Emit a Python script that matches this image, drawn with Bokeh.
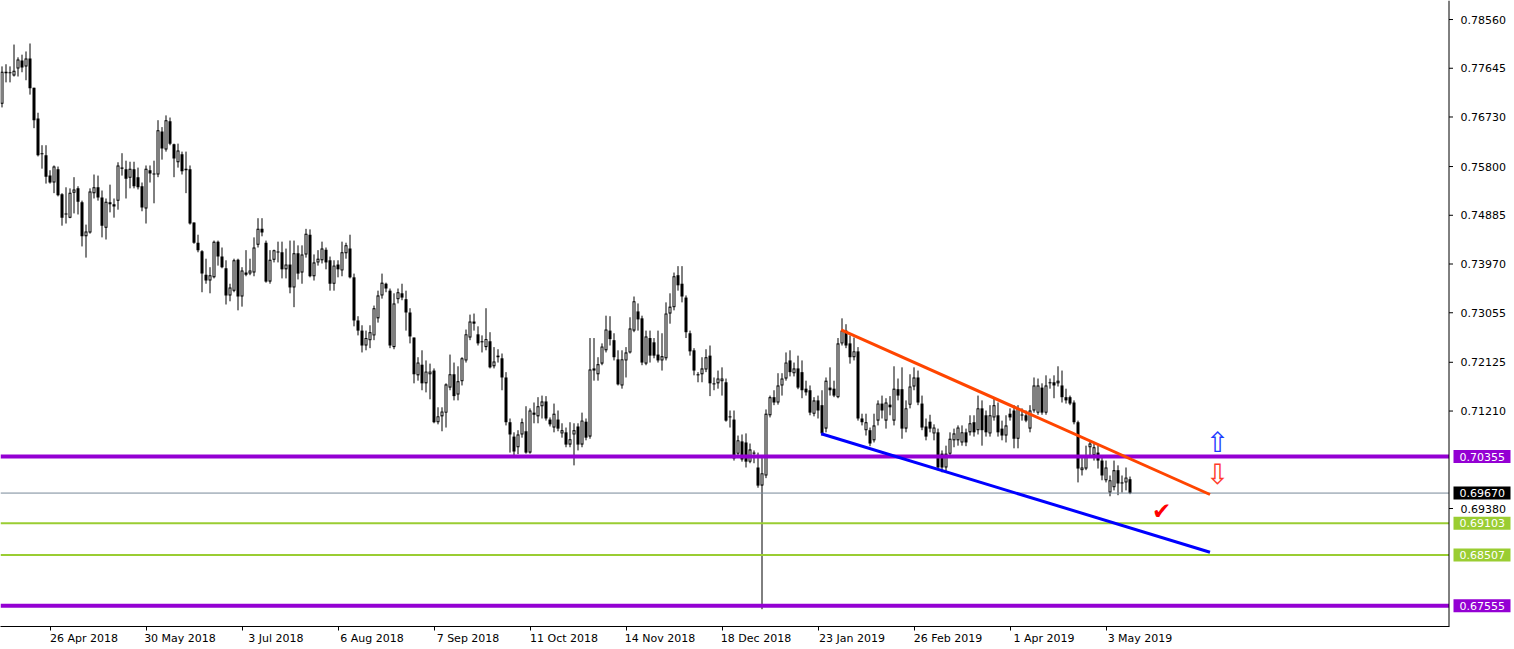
from bokeh.plotting import figure
from bokeh.models import (Range1d, FixedTicker, LinearAxis, Span,
                          ColumnDataSource, NumeralTickFormatter)
from bokeh.core.properties import value
from bokeh.embed import file_html
from bokeh.resources import INLINE

# ---------------- data (AUDUSD daily) ----------------
open_ = [
 0.7698,0.7758,0.7755,0.7751,0.7764,0.7779,0.7768,0.7783,0.7728,0.7670,
 0.7605,0.7601,0.7563,0.7550,0.7575,0.7528,0.7490,0.7484,0.7531,0.7539,
 0.7513,0.7449,0.7456,0.7530,0.7541,0.7522,0.7465,0.7513,0.7509,0.7516,
 0.7578,0.7575,0.7559,0.7575,0.7560,0.7543,0.7501,0.7573,0.7567,0.7565,
 0.7646,0.7612,0.7665,0.7622,0.7588,0.7603,0.7573,0.7575,0.7475,0.7437,
 0.7421,0.7377,0.7366,0.7372,0.7439,0.7411,0.7389,0.7338,0.7347,0.7405,
 0.7336,0.7381,0.7379,0.7381,0.7433,0.7463,0.7437,0.7364,0.7405,0.7419,
 0.7419,0.7387,0.7396,0.7353,0.7417,0.7381,0.7415,0.7452,0.7374,0.7400,
 0.7404,0.7424,0.7404,0.7360,0.7396,0.7385,0.7417,0.7426,0.7372,0.7291,
 0.7272,0.7244,0.7254,0.7263,0.7295,0.7338,0.7360,0.7347,0.7241,0.7331,
 0.7342,0.7331,0.7306,0.7259,0.7188,0.7208,0.7173,0.7190,0.7197,0.7100,
 0.7111,0.7118,0.7165,0.7190,0.7152,0.7177,0.7216,0.7259,0.7289,0.7265,
 0.7252,0.7241,0.7252,0.7205,0.7225,0.7220,0.7184,0.7100,0.7073,0.7053,
 0.7077,0.7083,0.7043,0.7118,0.7111,0.7130,0.7139,0.7105,0.7090,0.7105,
 0.7079,0.7081,0.7058,0.7077,0.7092,0.7058,0.7101,0.7073,0.7197,0.7190,
 0.7210,0.7235,0.7272,0.7254,0.7218,0.7169,0.7216,0.7231,0.7272,0.7308,
 0.7295,0.7210,0.7258,0.7250,0.7227,0.7216,0.7220,0.7304,0.7316,0.7376,
 0.7360,0.7334,0.7267,0.7235,0.7188,0.7190,0.7199,0.7225,0.7173,0.7173,
 0.7177,0.7175,0.7111,0.7105,0.7041,0.7064,0.7062,0.7026,0.7043,0.7015,
 0.6981,0.7000,0.7113,0.7147,0.7137,0.7169,0.7182,0.7216,0.7192,0.7201,
 0.7194,0.7163,0.7160,0.7116,0.7141,0.7132,0.7088,0.7165,0.7163,0.7147,
 0.7248,0.7272,0.7248,0.7222,0.7233,0.7107,0.7085,0.7085,0.7066,0.7103,
 0.7135,0.7103,0.7133,0.7103,0.7162,0.7162,0.7088,0.7133,0.7167,0.7184,
 0.7135,0.7092,0.7101,0.7079,0.7081,0.7041,0.7015,0.7041,0.7066,0.7066,
 0.7062,0.7081,0.7081,0.7100,0.7085,0.7126,0.7113,0.7079,0.7109,0.7113,
 0.7088,0.7075,0.7116,0.7122,0.7069,0.7113,0.7113,0.7088,0.7122,0.7118,
 0.7165,0.7118,0.7173,0.7175,0.7173,0.7169,0.7147,0.7147,0.7137,0.7100,
 0.7010,0.7013,0.7053,0.7038,0.7043,0.7028,0.6991,0.6968,0.6978,0.7010,
 0.6987,0.6987,0.6993]
high = [
 0.7768,0.7772,0.7768,0.7809,0.7785,0.7790,0.7796,0.7811,0.7728,0.7681,
 0.7620,0.7620,0.7573,0.7582,0.7580,0.7530,0.7541,0.7539,0.7560,0.7543,
 0.7516,0.7471,0.7539,0.7565,0.7563,0.7535,0.7520,0.7546,0.7520,0.7588,
 0.7605,0.7591,0.7589,0.7589,0.7578,0.7550,0.7582,0.7582,0.7591,0.7667,
 0.7654,0.7676,0.7672,0.7623,0.7623,0.7608,0.7608,0.7582,0.7475,0.7452,
 0.7423,0.7407,0.7391,0.7441,0.7441,0.7428,0.7404,0.7360,0.7407,0.7407,
 0.7391,0.7423,0.7407,0.7447,0.7483,0.7483,0.7441,0.7423,0.7424,0.7439,
 0.7439,0.7426,0.7441,0.7441,0.7432,0.7432,0.7463,0.7462,0.7415,0.7423,
 0.7439,0.7428,0.7411,0.7404,0.7404,0.7439,0.7437,0.7452,0.7379,0.7299,
 0.7282,0.7272,0.7282,0.7319,0.7347,0.7379,0.7362,0.7351,0.7342,0.7351,
 0.7360,0.7347,0.7314,0.7259,0.7222,0.7235,0.7216,0.7210,0.7201,0.7128,
 0.7128,0.7173,0.7227,0.7212,0.7205,0.7222,0.7274,0.7302,0.7304,0.7280,
 0.7263,0.7314,0.7269,0.7241,0.7237,0.7229,0.7194,0.7107,0.7081,0.7085,
 0.7107,0.7130,0.7126,0.7137,0.7147,0.7150,0.7149,0.7109,0.7135,0.7122,
 0.7098,0.7090,0.7100,0.7098,0.7098,0.7118,0.7107,0.7258,0.7258,0.7222,
 0.7248,0.7300,0.7299,0.7267,0.7235,0.7235,0.7241,0.7297,0.7336,0.7323,
 0.7300,0.7272,0.7272,0.7258,0.7272,0.7267,0.7325,0.7342,0.7381,0.7393,
 0.7393,0.7338,0.7272,0.7239,0.7194,0.7222,0.7237,0.7244,0.7184,0.7197,
 0.7203,0.7182,0.7122,0.7122,0.7075,0.7077,0.7079,0.7060,0.7047,0.7043,
 0.7038,0.7124,0.7150,0.7160,0.7192,0.7192,0.7231,0.7235,0.7212,0.7225,
 0.7216,0.7178,0.7169,0.7147,0.7150,0.7160,0.7184,0.7203,0.7178,0.7258,
 0.7295,0.7284,0.7263,0.7259,0.7241,0.7116,0.7116,0.7090,0.7116,0.7141,
 0.7150,0.7145,0.7149,0.7205,0.7182,0.7203,0.7141,0.7190,0.7203,0.7197,
 0.7150,0.7107,0.7114,0.7096,0.7088,0.7047,0.7056,0.7081,0.7088,0.7094,
 0.7094,0.7088,0.7113,0.7113,0.7150,0.7141,0.7122,0.7132,0.7145,0.7137,
 0.7103,0.7113,0.7126,0.7132,0.7132,0.7126,0.7122,0.7132,0.7184,0.7182,
 0.7173,0.7188,0.7182,0.7188,0.7205,0.7197,0.7163,0.7150,0.7141,0.7103,
 0.7038,0.7056,0.7066,0.7060,0.7056,0.7038,0.7028,0.7000,0.7028,0.7019,
 0.7000,0.7015,0.6998]
low = [
 0.7691,0.7738,0.7738,0.7749,0.7749,0.7757,0.7742,0.7715,0.7652,0.7599,
 0.7576,0.7548,0.7548,0.7530,0.7524,0.7469,0.7473,0.7483,0.7492,0.7490,
 0.7430,0.7409,0.7454,0.7520,0.7516,0.7447,0.7443,0.7494,0.7484,0.7499,
 0.7563,0.7520,0.7539,0.7539,0.7537,0.7496,0.7473,0.7550,0.7511,0.7560,
 0.7593,0.7608,0.7620,0.7560,0.7578,0.7565,0.7530,0.7471,0.7435,0.7419,
 0.7344,0.7360,0.7342,0.7370,0.7394,0.7389,0.7321,0.7327,0.7344,0.7310,
 0.7317,0.7374,0.7376,0.7374,0.7428,0.7449,0.7362,0.7360,0.7400,0.7400,
 0.7370,0.7370,0.7342,0.7316,0.7368,0.7360,0.7409,0.7372,0.7366,0.7394,
 0.7398,0.7387,0.7347,0.7347,0.7372,0.7374,0.7407,0.7370,0.7280,0.7263,
 0.7231,0.7235,0.7239,0.7254,0.7287,0.7332,0.7344,0.7239,0.7237,0.7323,
 0.7329,0.7272,0.7248,0.7173,0.7178,0.7160,0.7156,0.7143,0.7098,0.7096,
 0.7083,0.7090,0.7160,0.7141,0.7141,0.7169,0.7212,0.7254,0.7272,0.7244,
 0.7231,0.7235,0.7201,0.7201,0.7212,0.7160,0.7094,0.7043,0.7038,0.7040,
 0.7071,0.7041,0.7041,0.7098,0.7098,0.7107,0.7103,0.7092,0.7081,0.7083,
 0.7071,0.7053,0.7053,0.7019,0.7047,0.7053,0.7066,0.7069,0.7178,0.7178,
 0.7207,0.7231,0.7244,0.7216,0.7169,0.7163,0.7184,0.7229,0.7269,0.7272,
 0.7207,0.7207,0.7212,0.7220,0.7212,0.7197,0.7216,0.7285,0.7310,0.7347,
 0.7325,0.7258,0.7225,0.7188,0.7175,0.7175,0.7194,0.7149,0.7160,0.7163,
 0.7150,0.7101,0.7090,0.7028,0.7034,0.7026,0.7015,0.7023,0.7023,0.6977,
 0.6749,0.6995,0.7109,0.7132,0.7133,0.7150,0.7178,0.7186,0.7186,0.7162,
 0.7145,0.7150,0.7113,0.7111,0.7107,0.7075,0.7081,0.7150,0.7147,0.7145,
 0.7244,0.7239,0.7210,0.7216,0.7103,0.7094,0.7075,0.7055,0.7062,0.7094,
 0.7107,0.7088,0.7113,0.7094,0.7141,0.7069,0.7081,0.7126,0.7160,0.7132,
 0.7085,0.7066,0.7081,0.7066,0.7010,0.7006,0.7006,0.7036,0.7053,0.7056,
 0.7056,0.7055,0.7075,0.7073,0.7077,0.7056,0.7073,0.7073,0.7103,0.7073,
 0.7066,0.7062,0.7103,0.7051,0.7051,0.7103,0.7100,0.7081,0.7118,0.7114,
 0.7114,0.7114,0.7163,0.7145,0.7167,0.7137,0.7135,0.7132,0.7096,0.6987,
 0.7000,0.7010,0.7038,0.7028,0.7013,0.6991,0.6987,0.6961,0.6972,0.6963,
 0.6968,0.6972,0.6965]
close = [
 0.7758,0.7755,0.7757,0.7760,0.7781,0.7766,0.7783,0.7727,0.7667,0.7601,
 0.7603,0.7561,0.7550,0.7580,0.7526,0.7484,0.7492,0.7531,0.7537,0.7514,
 0.7449,0.7458,0.7533,0.7541,0.7522,0.7469,0.7514,0.7509,0.7505,0.7582,
 0.7576,0.7557,0.7576,0.7543,0.7541,0.7503,0.7576,0.7567,0.7565,0.7648,
 0.7614,0.7667,0.7623,0.7595,0.7610,0.7571,0.7576,0.7473,0.7437,0.7423,
 0.7379,0.7366,0.7376,0.7439,0.7411,0.7391,0.7338,0.7353,0.7404,0.7336,
 0.7385,0.7377,0.7385,0.7428,0.7463,0.7456,0.7364,0.7405,0.7423,0.7420,
 0.7387,0.7396,0.7353,0.7417,0.7379,0.7415,0.7454,0.7374,0.7400,0.7407,
 0.7426,0.7400,0.7360,0.7394,0.7387,0.7419,0.7432,0.7372,0.7291,0.7272,
 0.7244,0.7258,0.7269,0.7314,0.7338,0.7362,0.7351,0.7244,0.7323,0.7344,
 0.7334,0.7306,0.7261,0.7190,0.7212,0.7173,0.7195,0.7195,0.7100,0.7111,
 0.7120,0.7171,0.7190,0.7149,0.7177,0.7220,0.7265,0.7289,0.7285,0.7248,
 0.7250,0.7256,0.7203,0.7214,0.7222,0.7184,0.7100,0.7077,0.7045,0.7077,
 0.7100,0.7043,0.7122,0.7114,0.7130,0.7139,0.7107,0.7096,0.7116,0.7088,
 0.7085,0.7058,0.7068,0.7085,0.7058,0.7103,0.7071,0.7199,0.7201,0.7209,
 0.7242,0.7274,0.7256,0.7222,0.7171,0.7218,0.7231,0.7276,0.7327,0.7293,
 0.7212,0.7261,0.7225,0.7225,0.7216,0.7224,0.7304,0.7317,0.7374,0.7357,
 0.7336,0.7269,0.7233,0.7197,0.7190,0.7201,0.7222,0.7173,0.7171,0.7182,
 0.7182,0.7103,0.7109,0.7032,0.7066,0.7030,0.7026,0.7049,0.7041,0.6981,
 0.7004,0.7116,0.7147,0.7137,0.7169,0.7182,0.7212,0.7194,0.7201,0.7165,
 0.7160,0.7156,0.7118,0.7141,0.7122,0.7079,0.7178,0.7160,0.7150,0.7248,
 0.7272,0.7244,0.7222,0.7233,0.7107,0.7100,0.7100,0.7060,0.7094,0.7135,
 0.7122,0.7137,0.7128,0.7163,0.7150,0.7088,0.7126,0.7167,0.7184,0.7137,
 0.7090,0.7073,0.7088,0.7090,0.7015,0.7015,0.7041,0.7069,0.7079,0.7090,
 0.7081,0.7062,0.7098,0.7081,0.7126,0.7085,0.7081,0.7113,0.7132,0.7081,
 0.7075,0.7094,0.7109,0.7069,0.7126,0.7114,0.7103,0.7122,0.7169,0.7169,
 0.7118,0.7169,0.7175,0.7169,0.7178,0.7147,0.7141,0.7135,0.7100,0.7013,
 0.7015,0.7038,0.7060,0.7053,0.7028,0.7000,0.7015,0.6991,0.7010,0.6985,
 0.6985,0.6996,0.6967]

# date labels of the time axis (every 24 bars) and the bar they belong to
date_labels = ["26 Apr 2018", "30 May 2018", "3 Jul 2018", "6 Aug 2018",
               "7 Sep 2018", "11 Oct 2018", "14 Nov 2018", "18 Dec 2018",
               "23 Jan 2019", "26 Feb 2019", "1 Apr 2019", "3 May 2019"]
date_bars = [12, 36, 60, 84, 108, 132, 156, 180, 204, 228, 252, 276]

# price scale ticks
price_ticks = [0.78560, 0.77645, 0.76730, 0.75800, 0.74885, 0.73970,
               0.73055, 0.72125, 0.71210, 0.69380]

# horizontal levels and the price boxes drawn for them on the scale
level_prices = [0.70355, 0.67555, 0.69103, 0.68507, 0.69670]
level_colors = ["#9400D3", "#9400D3", "#9ACD32", "#9ACD32", "#778899"]
level_widths = [4, 4, 2, 2, 1]
box_colors = ["#9400D3", "#9400D3", "#9ACD32", "#9ACD32", "#000000"]

# trend lines (bar, price) -> (bar, price)
resistance = ((209.8, 0.72735), (302.0, 0.69643))
support = ((204.8, 0.70783), (302.0, 0.68560))

# ---------------------------------------------------------------------------
X0, X1 = -0.375, 378.125      # whole canvas width is the frame (4 px per bar)
Y0, Y1 = 0.67165, 0.78917
AXIS_X = 361.75               # price-scale line position (in bars)
PPX = (Y1 - Y0) / 626.0       # price per screen pixel

n = len(close)
bars = list(range(n))
top, bot, hi, lo = [], [], [], []
for o, h, l, c in zip(open_, high, low, close):
    t, b = max(o, c), min(o, c)
    if t - b < PPX:
        mid = (t + b) / 2
        t, b = mid + PPX / 2, mid - PPX / 2
    top.append(t); bot.append(b)
    hi.append(max(h, t)); lo.append(min(l, b))
src = ColumnDataSource(dict(x=bars, top=top, bot=bot, hi=hi, lo=lo))
bx, bt, bb = [], [], []
for i, (o, c) in enumerate(zip(open_, close)):
    if c > o and (c - o) > 2.2 * PPX:
        bx.append(i); bt.append(c - PPX); bb.append(o + PPX)
bull = ColumnDataSource(dict(x=bx, top=bt, bot=bb))

p = figure(width=1514, height=649, output_backend="svg", toolbar_location=None,
           x_range=Range1d(X0, X1), y_range=Range1d(Y0, Y1),
           x_axis_location=None, y_axis_location=None,
           min_border_left=0, min_border_top=0, min_border_right=0,
           min_border_bottom=23)
p.outline_line_color = None
p.background_fill_color = "white"
p.border_fill_color = "white"
for g in p.grid:
    g.visible = False

# candles
p.segment(x0="x", y0="lo", x1="x", y1="hi", source=src,
          line_color="black", line_width=1)
p.vbar(x="x", top="top", bottom="bot", width=0.75, source=src,
       fill_color="black", line_color=None)
p.vbar(x="x", top="top", bottom="bot", width=0.25, source=bull,
       fill_color="white", line_color=None)

# levels (end at the price scale)
p.segment(x0=[X0] * len(level_prices), y0=level_prices,
          x1=[AXIS_X] * len(level_prices), y1=level_prices,
          line_color=level_colors, line_width=level_widths)

# trend lines
p.line(x=[resistance[0][0], resistance[1][0]],
       y=[resistance[0][1], resistance[1][1]], line_color="#FF4500", line_width=3)
p.line(x=[support[0][0], support[1][0]],
       y=[support[0][1], support[1][1]], line_color="#0000FF", line_width=3)

# symbols
p.text(x=[303.9], y=[0.70621], text=["⇧"], text_color="#1E3CFF",
       text_font=value("DejaVu Sans"), text_font_size="28px",
       text_align="center", text_baseline="middle")
p.text(x=[303.9], y=[0.70020], text=["⇩"], text_color="#FF3A2A",
       text_font=value("DejaVu Sans"), text_font_size="28px",
       text_align="center", text_baseline="middle")
p.text(x=[289.9], y=[0.69326], text=["✔"], text_color="#FF0000",
       text_font=value("DejaVu Sans"), text_font_size="23px",
       text_align="center", text_baseline="middle")

# price scale line and its tick marks
p.add_layout(Span(location=AXIS_X, dimension="height", line_color="black",
                  line_width=1))
p.segment(x0=[AXIS_X] * len(price_ticks), y0=price_ticks,
          x1=[AXIS_X + 1.0] * len(price_ticks), y1=price_ticks,
          line_color="black", line_width=1)

# price boxes on the scale
p.rect(x=[370.0] * len(level_prices), y=level_prices, width=57, height=13,
       width_units="screen", height_units="screen",
       fill_color=box_colors, line_color=None)
p.text(x=[364.4] * len(level_prices), y=level_prices,
       text=[f"{v:.5f}" for v in level_prices], text_color="white",
       text_font=value("DejaVu Sans"), text_font_size="11px",
       text_align="left", text_baseline="middle")

# time axis
label_pos = [b + 8.5 for b in date_bars]
xaxis = LinearAxis(ticker=FixedTicker(ticks=label_pos, minor_ticks=date_bars),
                   major_label_overrides={pos: lab for pos, lab in zip(label_pos, date_labels)},
                   bounds=(X0, AXIS_X))
xaxis.axis_line_color = "black"
xaxis.major_tick_line_color = None
xaxis.minor_tick_line_color = "black"
xaxis.minor_tick_out = 4
xaxis.minor_tick_in = 0
xaxis.major_tick_out = 0
xaxis.major_label_standoff = 1
xaxis.major_label_text_font = "DejaVu Sans"
xaxis.major_label_text_font_size = "11px"
xaxis.major_label_text_color = "black"
p.add_layout(xaxis, "below")

# price axis: its labels are placed back onto the scale area
yaxis = LinearAxis(ticker=FixedTicker(ticks=price_ticks),
                   formatter=NumeralTickFormatter(format="0.00000"))
yaxis.axis_line_color = None
yaxis.major_tick_line_color = None
yaxis.major_tick_in = 0
yaxis.major_tick_out = 0
yaxis.minor_tick_line_color = None
yaxis.minor_tick_in = 0
yaxis.minor_tick_out = 0
yaxis.major_label_standoff = -54
yaxis.major_label_text_font = "DejaVu Sans"
yaxis.major_label_text_font_size = "11px"
yaxis.major_label_text_color = "black"
p.add_layout(yaxis, "right")

open("out.html", "w").write(file_html(p, INLINE))
